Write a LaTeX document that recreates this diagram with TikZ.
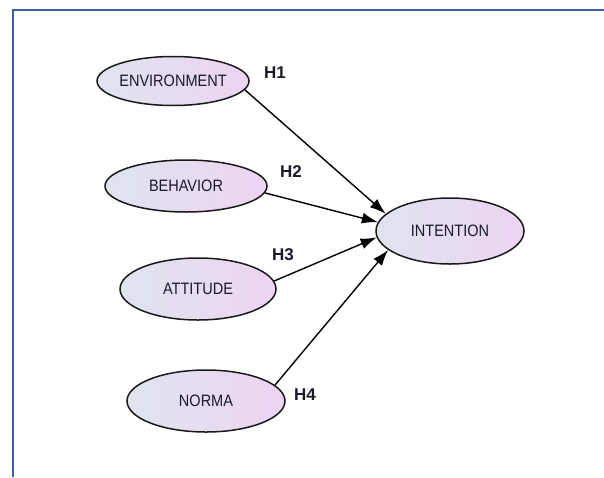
\documentclass[tikz,border=0pt]{standalone}
\usepackage{fontspec}
\setmainfont{Liberation Sans}
\usetikzlibrary{shapes.geometric,arrows.meta}
\definecolor{frameblue}{HTML}{3A5FA8}
\definecolor{fillleft}{HTML}{DFE4EE}
\definecolor{fillright}{HTML}{EDD4F3}
\definecolor{labeltext}{HTML}{1A1A2A}
\newcommand{\cname}[1]{\scalebox{0.88}[1]{#1}}
\begin{document}
\begin{tikzpicture}[x=1pt,y=-1pt,
  construct/.style={ellipse,draw=black!90,line width=1.5pt,inner sep=0pt,
    left color=fillleft,right color=fillright,
    font=\fontsize{16.5}{18}\selectfont,text=labeltext},
  hyp/.style={font=\bfseries\fontsize{17}{19}\selectfont,text=labeltext},
  path/.style={line width=1.4pt,draw=black,-{Latex[length=16pt,width=11pt]}}]
\useasboundingbox (0,0) rectangle (604,477);
% open frame: top and left edges only
\draw[frameblue,line width=2pt] (13,477) -- (13,10) -- (604,10);

\node[construct,minimum width=152pt,minimum height=49pt] (env) at (173,81) {\cname{ENVIRONMENT}};
\node[construct,minimum width=162pt,minimum height=52pt] (beh) at (186,186) {\cname{BEHAVIOR}};
\node[construct,minimum width=156pt,minimum height=62pt] (att) at (198,289) {\cname{ATTITUDE}};
\node[construct,minimum width=158pt,minimum height=62pt] (nor) at (206,401) {\cname{NORMA}};
\node[construct,minimum width=148pt,minimum height=66pt] (int) at (450,231) {\cname{INTENTION}};

\draw[path] (env.-7) -- (int.165);
\draw[path] (beh.-5) -- (int.173);
\draw[path] (att.6) -- (int.185);
\draw[path] (nor.13) -- (int.197);

\node[hyp] (h1) at (275,73) {H1};
\node[hyp] (h2) at (291,172) {H2};
\node[hyp] (h3) at (283,255) {H3};
\node[hyp] (h4) at (305,395) {H4};
\end{tikzpicture}
\end{document}
